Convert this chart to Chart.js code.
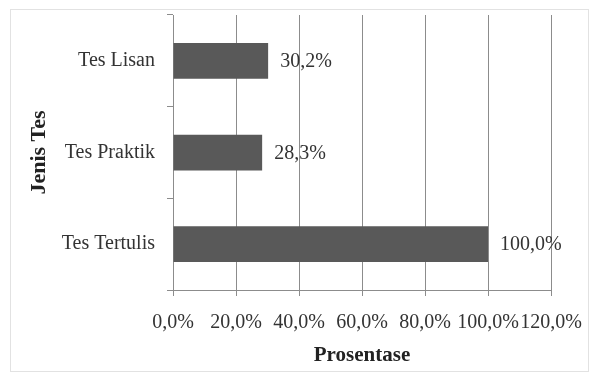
<!DOCTYPE html>
<html lang="id">
<head>
    <meta charset="UTF-8">
    <title>Jenis Tes</title>
    <script src="https://cdn.jsdelivr.net/npm/chart.js"></script>
    <style>
        body { margin: 0; background: #fff; }
        #wrap { width: 598px; height: 378px; }
    </style>
</head>
<body>
    <div id="wrap">
        <canvas id="grafico"></canvas>
    </div>
<script>
    var kategori = ['Tes Lisan', 'Tes Praktik', 'Tes Tertulis']
    var prosentase = [30.2, 28.3, 100.0]
    var sumbuX = [0, 20, 40, 60, 80, 100, 120]

    function formatPersen(v) {
        return v.toFixed(1).replace('.', ',') + '%'
    }

    var fonte = 'Liberation Serif'

    // moldura clara em volta do gráfico + rótulos nas barras
    const molduraELabels = {
        id: 'molduraELabels',
        beforeDraw(chart) {
            const c = chart.ctx
            c.save()
            c.fillStyle = '#fff'
            c.fillRect(0, 0, chart.width, chart.height)
            c.strokeStyle = '#e2e2e2'
            c.lineWidth = 1
            c.strokeRect(10.5, 9.5, 578, 362)
            c.restore()
        },
        afterDatasetsDraw(chart) {
            const c = chart.ctx
            const meta = chart.getDatasetMeta(0)
            c.save()
            c.font = '20px "' + fonte + '"'
            c.fillStyle = '#333'
            c.textAlign = 'left'
            c.textBaseline = 'middle'
            meta.data.forEach(function (bar, i) {
                c.fillText(formatPersen(prosentase[i]), bar.x + 12, bar.y + 1)
            })
            c.restore()
        }
    }

    const ctx = document.getElementById('grafico').getContext('2d')

    new Chart(ctx, {
        type: 'bar',
        data: {
            labels: kategori,
            datasets: [{
                data: prosentase,
                backgroundColor: '#595959',
                borderWidth: 0,
                categoryPercentage: 1,
                barPercentage: 0.39
            }]
        },
        plugins: [molduraELabels],
        options: {
            indexAxis: 'y',
            responsive: true,
            maintainAspectRatio: false,
            animation: false,
            layout: { padding: { left: 10, right: 47, top: 15, bottom: 10 } },
            plugins: {
                legend: { display: false },
                tooltip: { enabled: false }
            },
            scales: {
                x: {
                    min: 0,
                    max: 120,
                    afterBuildTicks: function (scale) {
                        scale.ticks = sumbuX.map(function (v) { return { value: v } })
                    },
                    afterFit: function (scale) { scale.height = 78 },
                    ticks: {
                        stepSize: 20,
                        padding: 15,
                        color: '#333',
                        font: { family: fonte, size: 20 },
                        maxRotation: 0,
                        autoSkip: false,
                        callback: function (v) { return formatPersen(v) }
                    },
                    grid: { color: '#8c8c8c', lineWidth: 1, tickLength: 6 },
                    border: { color: '#8c8c8c' },
                    title: {
                        display: true,
                        text: 'Prosentase',
                        color: '#222',
                        font: { family: fonte, size: 21, weight: 'bold' },
                        padding: { top: 0, bottom: 0 }
                    }
                },
                y: {
                    afterFit: function (scale) {
                        scale.width = 163
                        scale.paddingTop = 0
                        scale.paddingBottom = 0
                    },
                    ticks: {
                        padding: 12,
                        color: '#333',
                        font: { family: fonte, size: 20 }
                    },
                    grid: { drawOnChartArea: false, drawTicks: true, tickLength: 6, color: '#8c8c8c', offset: true },
                    border: { color: '#8c8c8c' },
                    title: {
                        display: true,
                        text: 'Jenis Tes',
                        color: '#222',
                        font: { family: fonte, size: 22, weight: 'bold' },
                        padding: { top: 16, bottom: 0 }
                    }
                }
            }
        }
    })
</script>
</body>
</html>
